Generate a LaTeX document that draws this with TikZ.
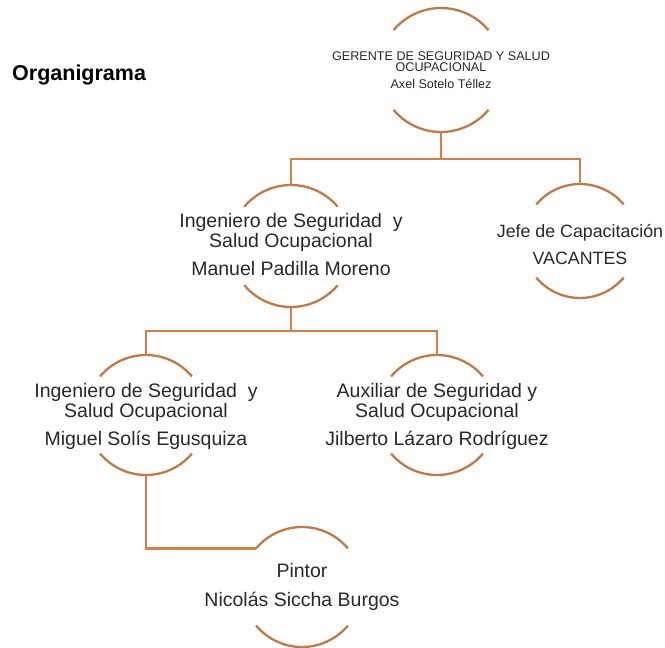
\documentclass[tikz,border=0pt]{standalone}
\usepackage{fontspec}
\setmainfont{Liberation Sans}
\definecolor{conn}{RGB}{212,128,68}
\definecolor{arcc}{RGB}{192,122,72}
\definecolor{txtc}{RGB}{40,40,40}
\begin{document}
\begin{tikzpicture}[x=1pt,y=1pt,
  orgc/.style={circle, minimum size=#1, inner sep=0pt, outer sep=0pt},
  conline/.style={draw=conn, line width=2.3pt},
  arcline/.style={draw=arcc, line width=2.3pt},
  bigtxt/.style={align=center, inner sep=0pt, text=txtc, font=\fontsize{19.5}{20}\selectfont},
  smalltxt/.style={align=center, inner sep=0pt, text=txtc, font=\fontsize{12.6}{11.6}\selectfont}]
\useasboundingbox (0,0) rectangle (665,-648);
% title
\node[anchor=base west, inner sep=0pt, text=black, font=\bfseries\fontsize{21.5}{24}\selectfont] (title) at (12,-80) {Organigrama};
% circles (anchors only)
\node[orgc=124pt] (ger) at (441,-70) {};
\node[orgc=122pt] (man) at (291,-246) {};
\node[orgc=114pt] (jefe) at (580,-241) {};
\node[orgc=120pt] (mig) at (146,-415) {};
\node[orgc=120pt] (aux) at (437,-415) {};
\node[orgc=120pt] (pin) at (302,-587) {};
% arcs
\foreach \n/\r in {ger/62, man/61, jefe/57, mig/60, aux/60, pin/60}{
  \draw[arcline] (\n.40) arc[start angle=40, end angle=140, radius=\r pt];
  \draw[arcline] (\n.220) arc[start angle=220, end angle=320, radius=\r pt];
}
% texts
\node[smalltxt] (gert) at (441,-70) {GERENTE DE SEGURIDAD Y SALUD\\OCUPACIONAL\\[5pt]Axel Sotelo T\'ellez};
\node[bigtxt] (mant) at (291,-245) {Ingeniero de Seguridad \ y\\Salud Ocupacional\\[8pt]Manuel Padilla Moreno};
\node[align=center, inner sep=0pt, text=txtc, font=\fontsize{17.8}{27}\selectfont] (jefet) at (580,-245) {Jefe de Capacitaci\'on\\VACANTES};
\node[bigtxt] (migt) at (146,-416) {Ingeniero de Seguridad \ y\\Salud Ocupacional\\[8pt]Miguel Sol\'is Egusquiza};
\node[bigtxt] (auxt) at (437,-416) {Auxiliar de Seguridad y\\Salud Ocupacional\\[8pt]Jilberto L\'azaro Rodr\'iguez};
\node[align=center, inner sep=0pt, text=txtc, font=\fontsize{19.5}{29}\selectfont] (pint) at (302,-587) {Pintor\\Nicol\'as Siccha Burgos};
% connectors
\coordinate (b1) at (441,-159);
\coordinate (b2) at (291,-331);
\draw[conline] (ger.south) -- (b1);
\draw[conline] (man.north) |- (b1) -| (jefe.north);
\draw[conline] (man.south) -- (b2);
\draw[conline] (mig.north) |- (b2) -| (aux.north);
\draw[conline] (mig.south) |- (pin.140);
\end{tikzpicture}
\end{document}
